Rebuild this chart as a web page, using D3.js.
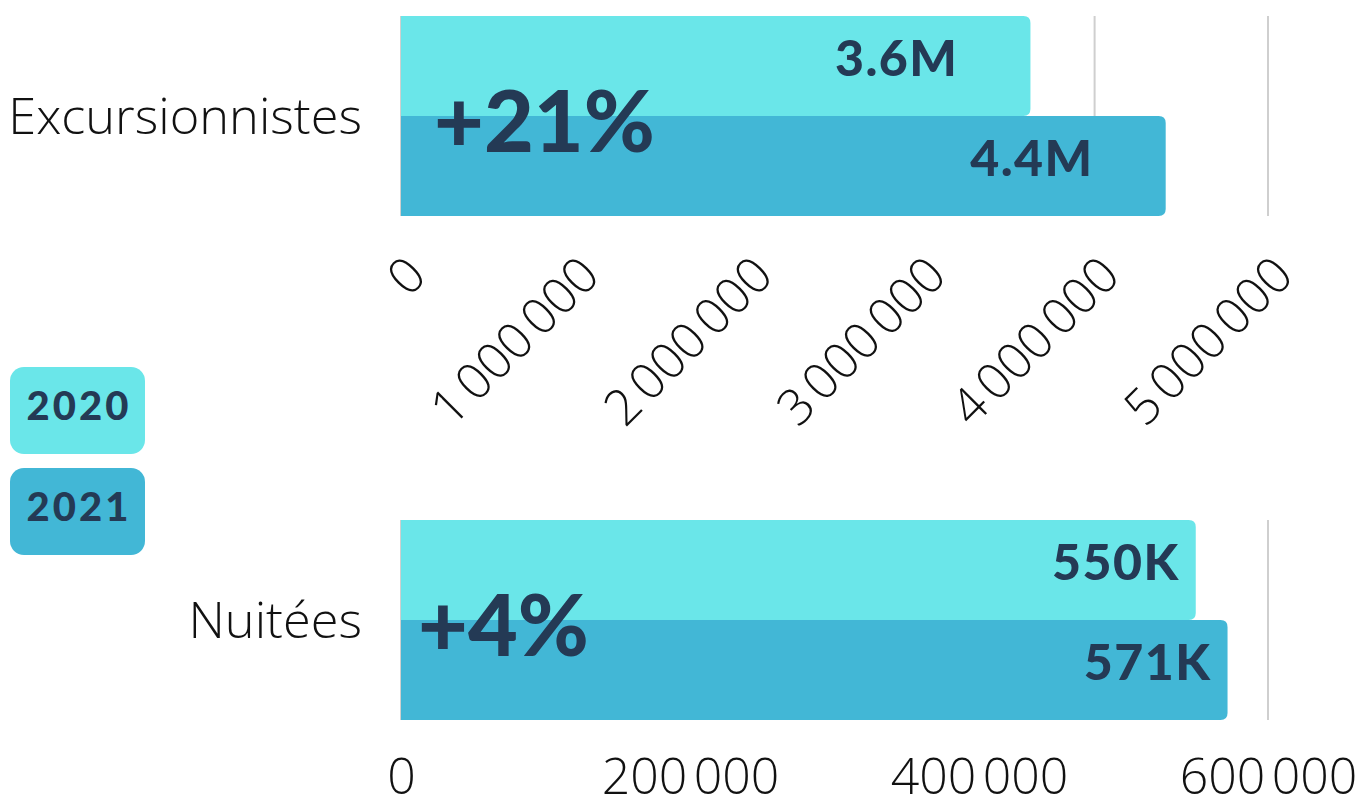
<!DOCTYPE html>
<html>
<head>
<meta charset="utf-8">
<script src="https://cdn.jsdelivr.net/npm/d3@7"></script>
<style>
  body { margin: 0; background: #fff; }
  svg { display: block; }
  .tick text { font-family: 'Open Sans', sans-serif; font-weight: 300; fill: #111; }
</style>
</head>
<body>
<svg width="1360" height="796"></svg>
<script>
// data
const years = ['2020', '2021'];
const categories = ['Excursionnistes', 'Nuitées'];
const values2020 = [3630000, 550000];
const values2021 = [4410000, 572000];
const valueLabels2020 = ['3.6M', '550K'];
const valueLabels2021 = ['4.4M', '571K'];
const changeLabels = ['+21%', '+4%'];
const axisMax = [5000000, 600000];
const tickValues = [
    [0, 1000000, 2000000, 3000000, 4000000, 5000000],
    [0, 200000, 400000, 600000]
];

const colors = { '2020': '#6ae6e9', '2021': '#42b7d6' };
const dark = '#243a55';

const svg = d3.select('svg');
const fmt = d3.formatLocale({ decimal: ',', thousands: '\u202f', grouping: [3], currency: ['', '€'] }).format(',d');

// rounded-right bar path
const barPath = (x0, y0, w, h, r) => {
    r = Math.min(r, w);
    return `M${x0},${y0}H${x0 + w - r}Q${x0 + w},${y0} ${x0 + w},${y0 + r}` +
        `V${y0 + h - r}Q${x0 + w},${y0 + h} ${x0 + w - r},${y0 + h}H${x0}Z`;
};

const panels = [
    { top: 16, labelInset: 72, rotate: true, changeX: 434 },
    { top: 520, labelInset: 16, rotate: false, changeX: 418 }
];

const left = 401, right = 1268, barH = 100;

categories.forEach((cat, i) => {
    const p = panels[i];
    const x = d3.scaleLinear().domain([0, axisMax[i]]).range([left, right]);
    const y = d3.scaleBand().domain(years).range([p.top, p.top + 2 * barH]);
    const g = svg.append('g');

    // grid
    g.selectAll('.grid').data(tickValues[i]).enter().append('line')
        .attr('x1', d => x(d)).attr('x2', d => x(d))
        .attr('y1', p.top).attr('y2', p.top + 2 * barH)
        .attr('stroke', '#cfcfcf').attr('stroke-width', 2);

    const vals = { '2020': values2020[i], '2021': values2021[i] };
    const labs = { '2020': valueLabels2020[i], '2021': valueLabels2021[i] };

    g.selectAll('.bar').data(years).enter().append('path')
        .attr('d', yr => barPath(x(0), y(yr), x(vals[yr]) - x(0), y.bandwidth(), 7))
        .attr('fill', yr => colors[yr]);

    g.selectAll('.val').data(years).enter().append('text')
        .attr('x', yr => x(vals[yr]) - p.labelInset)
        .attr('y', yr => y(yr) + y.bandwidth() / 2 - 8)
        .attr('dy', '0.36em')
        .attr('text-anchor', 'end')
        .attr('font-family', 'Lato, sans-serif')
        .attr('font-weight', 900)
        .attr('font-size', 50)
        .attr('letter-spacing', 1.5)
        .attr('fill', dark)
        .text(yr => labs[yr]);

    g.append('text')
        .attr('x', p.changeX)
        .attr('y', p.top + barH + 5)
        .attr('dy', '0.36em')
        .attr('font-family', 'Lato, sans-serif')
        .attr('font-weight', 900)
        .attr('font-size', 86)
        .attr('fill', dark)
        .text(changeLabels[i]);

    // category label
    g.append('text')
        .attr('x', 362)
        .attr('y', p.top + barH)
        .attr('dy', '0.36em')
        .attr('text-anchor', 'end')
        .attr('font-family', "'Open Sans', sans-serif")
        .attr('font-weight', 300)
        .attr('font-size', 50.5)
        .attr('fill', '#111')
        .text(cat);

    // axis
    const axis = d3.axisBottom(x).tickValues(tickValues[i]).tickSize(0).tickFormat(fmt);
    const ag = svg.append('g')
        .attr('transform', `translate(0,${p.top + 2 * barH})`)
        .call(axis);
    ag.select('.domain').remove();
    ag.selectAll('text').attr('font-size', 50);
    if (p.rotate) {
        ag.selectAll('text')
            .attr('text-anchor', 'end')
            .attr('transform', 'translate(2,37) rotate(-45)')
            .attr('dy', '0.71em')
            .attr('y', 0);
    } else {
        ag.selectAll('text').attr('y', 38);
    }
});

// legend
const legend = svg.append('g');
legend.selectAll('rect').data(years).enter().append('rect')
    .attr('x', 10).attr('y', (d, i) => 367 + i * 101)
    .attr('width', 135).attr('height', 87).attr('rx', 14)
    .attr('fill', d => colors[d]);
legend.selectAll('text').data(years).enter().append('text')
    .attr('x', 79).attr('y', (d, i) => 420 + i * 101)
    .attr('text-anchor', 'middle')
    .attr('font-family', 'Lato, sans-serif')
    .attr('font-weight', 900)
    .attr('font-size', 40)
    .attr('letter-spacing', 3)
    .attr('fill', dark)
    .text(d => d);
</script>
</body>
</html>
